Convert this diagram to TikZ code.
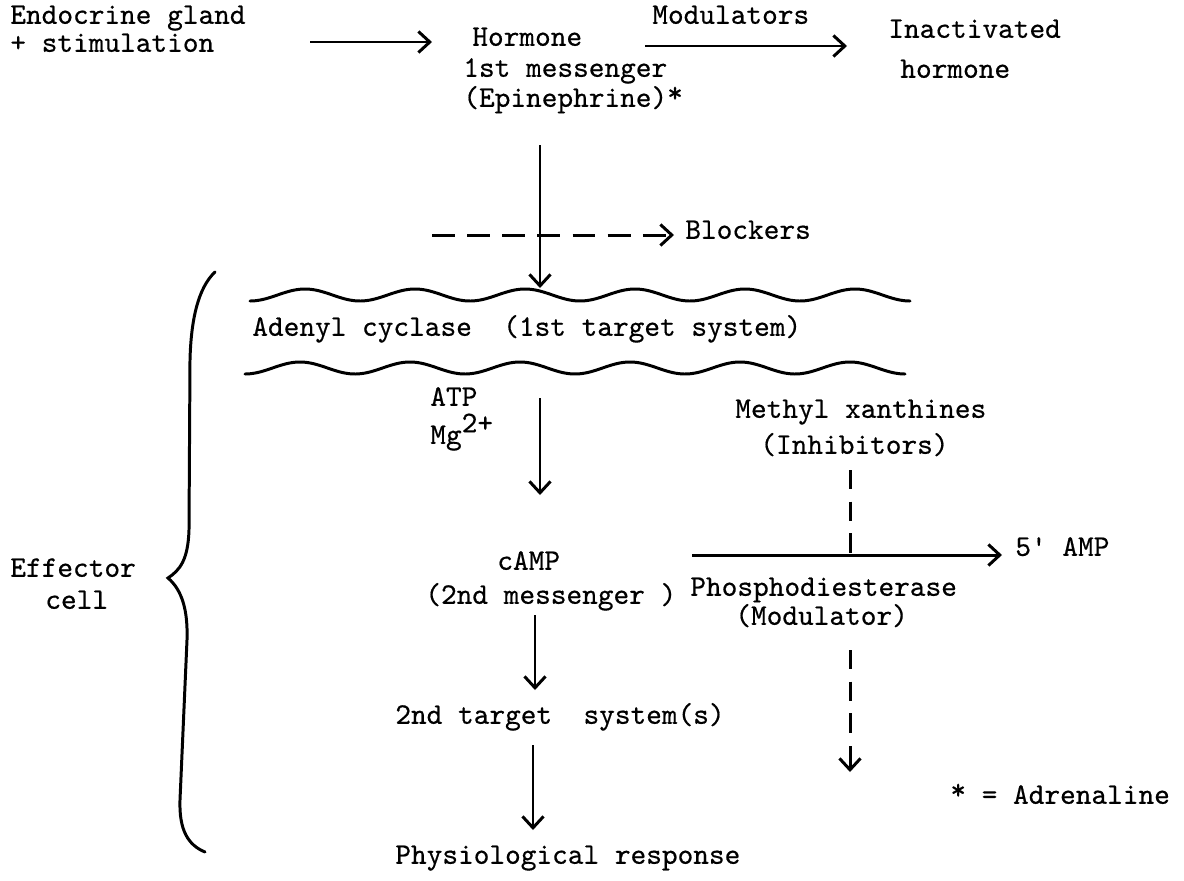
\documentclass[tikz,border=0pt]{standalone}
\usepackage{fontspec}
\newfontfamily\tw{lmmono10-regular.otf}[FakeBold=0.5]
\usetikzlibrary{arrows.meta}
\newcommand{\myast}{\raisebox{0.35ex}{*}}
\begin{document}
\begin{tikzpicture}[x=0.02cm,y=-0.02cm,
  txt/.style={anchor=mid west,inner sep=0pt,font=\fontsize{17}{20}\selectfont\tw},
  ln/.style={line width=1.7pt},
  arr/.style={ln,-{Straight Barb[length=6.5pt,width=12pt,line width=1.7pt]}},
  dsh/.style={arr,dash pattern=on 13pt off 7pt},
  vdsh/.style={ln,dash pattern=on 11pt off 7pt},
  brace/.style={line width=1.7pt,line cap=round}]
\useasboundingbox (0,0) rectangle (1184,880);
% texts
\node[txt] (endo1) at (10,20) {Endocrine gland};
\node[txt] (endo2) at (10,48) {+ stimulation};
\node[txt] (hor1) at (472,42) {Hormone};
\node[txt] (hor2) at (463,73) {1st messenger};
\node[txt] (hor3) at (463,103) {(Epinephrine)\myast};
\node[txt] (modul) at (652,20) {Modulators};
\node[txt] (inact1) at (888,34) {Inactivated};
\node[txt] (inact2) at (900,74) {hormone};
\node[txt] (block) at (685,235) {Blockers};
\node[txt] (adenyl) at (252,332) {Adenyl cyclase\ \ (1st target system)};
\node[txt] (atp) at (430,402) {ATP};
\node[txt] (mg) at (430,440) {Mg\raisebox{0.9ex}{2+}};
\node[txt] (meth1) at (735,414) {Methyl xanthines};
\node[txt] (meth2) at (760,450) {(Inhibitors)};
\node[txt] (camp1) at (497,566) {cAMP};
\node[txt] (camp2) at (425,600) {(2nd messenger )};
\node[txt] (five) at (1015,552) {5' AMP};
\node[txt] (phos1) at (690,592) {Phosphodiesterase};
\node[txt] (phos2) at (735,621) {(Modulator)};
\node[txt] (targ) at (395,720) {2nd target\ \ system(s)};
\node[txt] (physio) at (395,860) {Physiological response};
\node[txt] (adren) at (950,800) {\myast{} = Adrenaline};
\node[txt] (eff1) at (10,573) {Effector};
\node[txt] (eff2) at (45,605) {cell};
% arrow end points
\coordinate (a1s) at (310,42); \coordinate (a1e) at (432,42);
\coordinate (a2s) at (645,46); \coordinate (a2e) at (847,46);
\coordinate (a3s) at (540,145); \coordinate (a3e) at (540,288);
\coordinate (d1s) at (432,235); \coordinate (d1e) at (674,235);
\coordinate (a4s) at (540,398); \coordinate (a4e) at (540,495);
\coordinate (a5s) at (692,555); \coordinate (a5e) at (1002,555);
\coordinate (d2s) at (850,470); \coordinate (d2e) at (850,556);
\coordinate (d3s) at (850,650); \coordinate (d3m) at (850,735);
\coordinate (d3a) at (850,746); \coordinate (d3e) at (850,772);
\coordinate (a6s) at (535,615); \coordinate (a6e) at (535,690);
\coordinate (a7s) at (533,745); \coordinate (a7e) at (533,830);
% connectors
\draw[arr] (a1s) -- (a1e);
\draw[arr] (a2s) -- (a2e);
\draw[arr] (a3s) -- (a3e);
\draw[dsh] (d1s) -- (d1e);
\draw[arr] (a4s) -- (a4e);
\draw[arr] (a5s) -- (a5e);
\draw[vdsh] (d2s) -- (d2e);
\draw[vdsh] (d3s) -- (d3m);
\draw[arr] (d3a) -- (d3e);
\draw[arr] (a6s) -- (a6e);
\draw[arr] (a7s) -- (a7e);
% membranes
\draw[ln,line cap=round] plot[domain=250:910,samples=240] (\x,{295+6*sin((\x-250)/110*360+90)});
\draw[ln,line cap=round] plot[domain=245:905,samples=240] (\x,{368+6*sin((\x-245)/110*360+90)});
% brace
\draw[brace] (215,272) .. controls (198,288) and (191,320) .. (190,360)
  -- (189,530) .. controls (188,560) and (180,570) .. (168,578)
  .. controls (182,590) and (188,610) .. (187,640)
  -- (180,800) .. controls (179,830) and (188,845) .. (205,852);
\end{tikzpicture}
\end{document}
